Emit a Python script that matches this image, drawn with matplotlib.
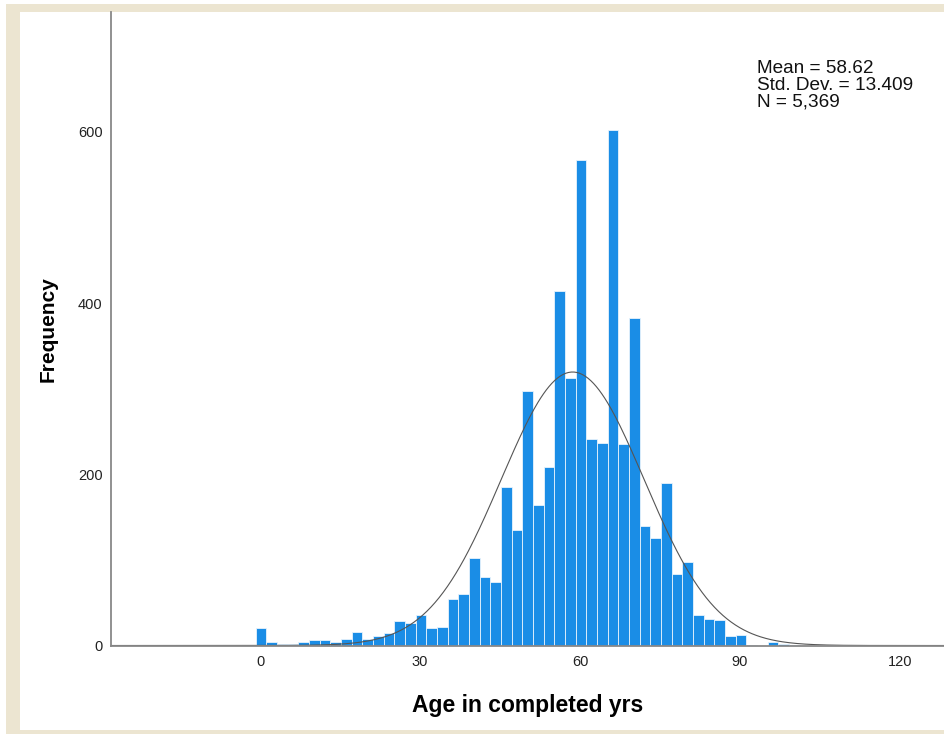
import numpy as np
import matplotlib.pyplot as plt
from matplotlib.patches import Rectangle

plt.rcParams['font.family'] = ['Liberation Sans', 'DejaVu Sans']

# histogram of age, bins of 2 years starting at -0.8
bin_start = -0.8
bin_width = 2
counts = [20, 4, 2, 2, 4, 7, 6, 4, 8, 16,
          8, 11, 15, 29, 26, 36, 20, 22, 54, 60,
          102, 80, 74, 185, 135, 297, 164, 208, 414, 312,
          567, 241, 237, 602, 235, 383, 140, 125, 190, 84,
          98, 36, 31, 30, 11, 12, 1, 0, 4, 2, 1]

mean = 58.62
std = 13.409
n = 5369

x_ticks = [0, 30, 60, 90, 120]
y_ticks = [0, 200, 400, 600]

W, H = 944, 734
fig = plt.figure(figsize=(W / 100, H / 100), dpi=100)
fig.patch.set_facecolor('white')

# beige frame around the output panel
fig.patches.append(Rectangle((6 / W, 0), 1, (H - 4) / H, transform=fig.transFigure,
                             facecolor='#ece5d1', edgecolor='none', zorder=-2))
fig.patches.append(Rectangle((20 / W, 4 / H), 1, (730 - 12) / H, transform=fig.transFigure,
                             facecolor='white', edgecolor='none', zorder=-1))

ax = fig.add_axes([111 / W, (H - 645.5) / H, 1 - 111 / W, (645.5 - 12) / H])
ax.set_facecolor('none')

edges = bin_start + bin_width * np.arange(len(counts))
ax.bar(edges, counts, width=bin_width, align='edge', color='#1a8de6',
       edgecolor='#e8f3fc', linewidth=0.6, zorder=2)

xlim = (-27.94, 128.25)
xs = np.linspace(xlim[0], xlim[1], 600)
curve = n * bin_width / (std * np.sqrt(2 * np.pi)) * np.exp(-0.5 * ((xs - mean) / std) ** 2)
ax.plot(xs, curve, color='#555555', linewidth=0.8, zorder=3)

ax.set_xlim(*xlim)
ax.set_ylim(0, 740)
ax.set_xticks(x_ticks)
ax.set_yticks(y_ticks)
ax.tick_params(length=0, labelsize=10.5, colors='#222222')
ax.tick_params(axis='y', pad=6)
ax.tick_params(axis='x', pad=7)

for s in ['top', 'right']:
    ax.spines[s].set_visible(False)
for s in ['left', 'bottom']:
    ax.spines[s].set_color('#888888')
    ax.spines[s].set_linewidth(1.3)
    ax.spines[s].set_zorder(4)

ax.set_xlabel('Age in completed yrs', fontsize=16.5, fontweight='bold', labelpad=18)
ax.set_ylabel('Frequency', fontsize=15, fontweight='bold', labelpad=15)

ax.text(0.7755, 0.925, 'Mean = %.2f\nStd. Dev. = %.3f\nN = %s' % (mean, std, format(n, ',')),
        transform=ax.transAxes, ha='left', va='top', fontsize=13.7,
        linespacing=1.0, color='#111111')

fig.savefig('out.png', dpi=100)
